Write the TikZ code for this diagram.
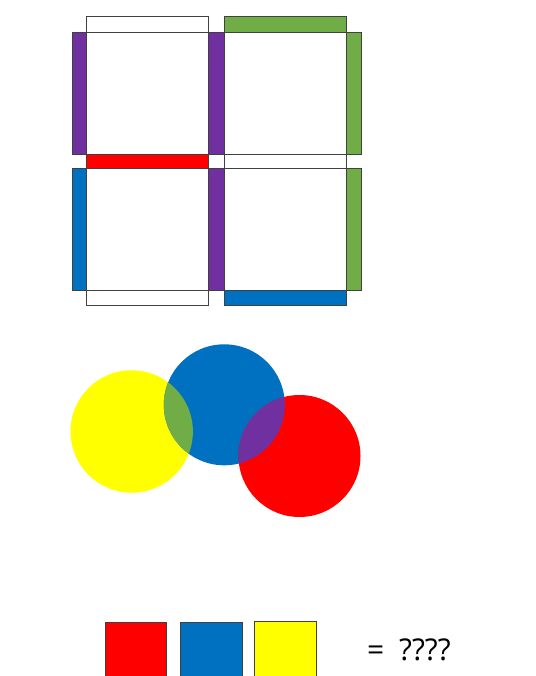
\documentclass[tikz,border=0pt]{standalone}
\usepackage{fontspec}
\setmainfont{Open Sans}
\definecolor{cred}{HTML}{FF0000}
\definecolor{cblue}{HTML}{0070C0}
\definecolor{cyellow}{HTML}{FFFF00}
\definecolor{cgreen}{HTML}{70AD47}
\definecolor{cpurple}{HTML}{7030A0}
\definecolor{edge}{HTML}{404040}
\tikzset{
  part/.style={draw=edge, line width=0.8pt},
  sq/.style={draw=edge, line width=0.8pt},
  lbl/.style={inner sep=0pt, anchor=base west, font=\fontsize{30}{31}\selectfont}
}
\begin{document}
\begin{tikzpicture}[x=1pt,y=-1pt]
\useasboundingbox (0,0) rectangle (535,676);
% top strips
\draw[part, fill=white] (86.7,16.7) rectangle (208.3,32.7);
\draw[part, fill=cgreen] (224.3,16.7) rectangle (346,32.7);
% upper row side strips
\draw[part, fill=cpurple] (72.3,32.7) rectangle (86.7,154);
\draw[part, fill=cpurple] (208.3,32.7) rectangle (224.3,154);
\draw[part, fill=cgreen] (346,32.7) rectangle (361.3,154);
% upper squares
\draw[part, fill=white] (86.7,32.7) rectangle (208.3,154);
\draw[part, fill=white] (224.3,32.7) rectangle (346,154);
% middle strips
\draw[part, fill=cred] (86.7,154) rectangle (208.3,168.7);
\draw[part, fill=white] (224.3,154) rectangle (346,168.7);
% lower row side strips
\draw[part, fill=cblue] (72.3,168.7) rectangle (86.7,290);
\draw[part, fill=cpurple] (208.3,168.7) rectangle (224.3,290);
\draw[part, fill=cgreen] (346,168.7) rectangle (361.3,290);
% lower squares
\draw[part, fill=white] (86.7,168.7) rectangle (208.3,290);
\draw[part, fill=white] (224.3,168.7) rectangle (346,290);
% bottom strips
\draw[part, fill=white] (86.7,290) rectangle (208.3,305);
\draw[part, fill=cblue] (224.3,290) rectangle (346,305);

% circles
\fill[cyellow] (131.7,431.5) circle (61.2);
\fill[cblue] (224.3,404.8) circle (60.5);
\fill[cred] (299.5,456) circle (61);
\begin{scope}
  \clip (131.7,431.5) circle (61.2);
  \fill[cgreen] (224.3,404.8) circle (60.5);
\end{scope}
\begin{scope}
  \clip (224.3,404.8) circle (60.5);
  \fill[cpurple] (299.5,456) circle (61);
\end{scope}

% bottom squares
\draw[sq, fill=cred] (105.7,622.3) rectangle (166,678);
\draw[sq, fill=cblue] (180.7,622.3) rectangle (242.3,678);
\draw[sq, fill=cyellow] (254.7,621) rectangle (316,678);
\node[lbl] (eq) at (367,660) {=};
\node[lbl] (q) at (399,660) {????};
\end{tikzpicture}
\end{document}
